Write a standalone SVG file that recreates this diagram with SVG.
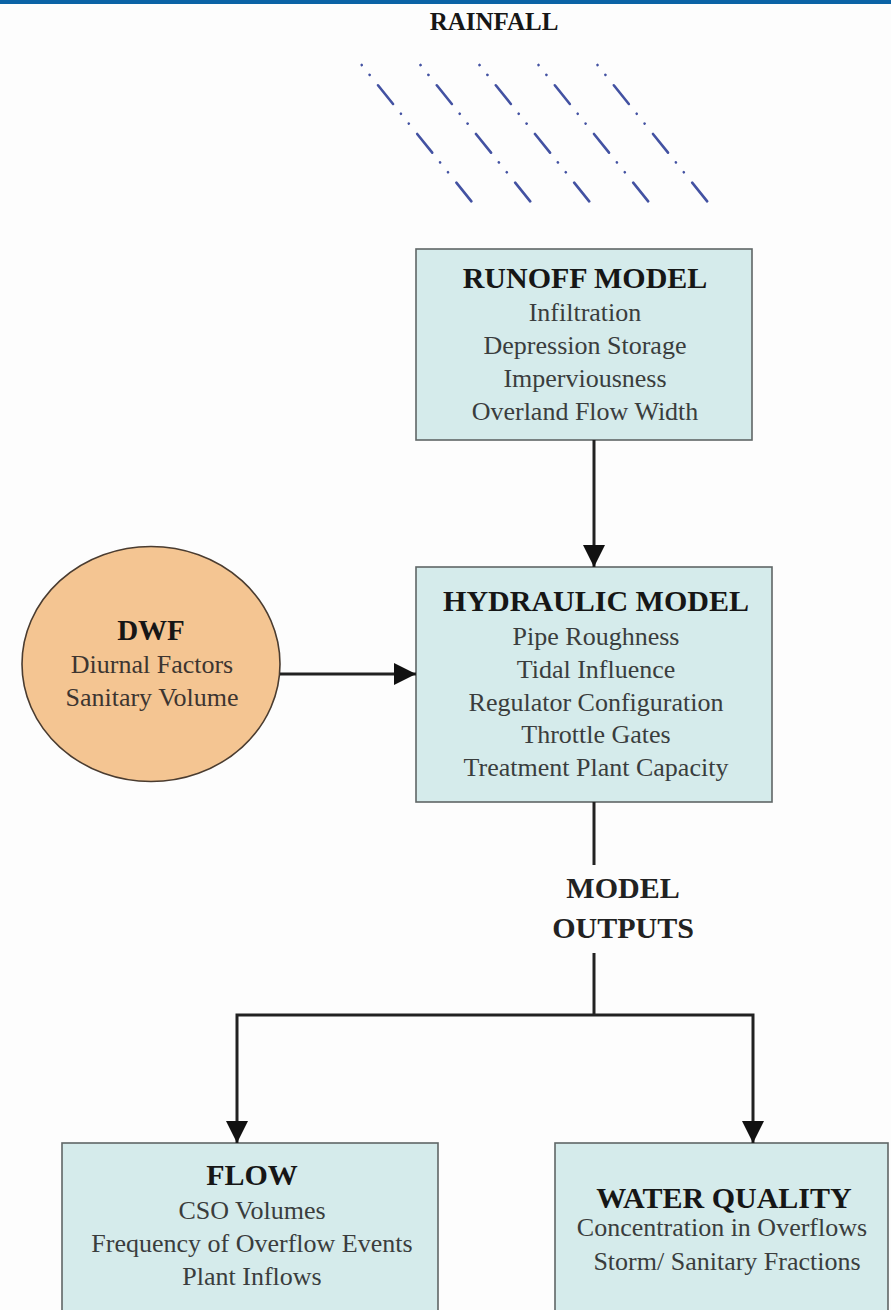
<svg xmlns="http://www.w3.org/2000/svg" width="891" height="1310" viewBox="0 0 891 1310">
  <style>
    .box { fill: #d5ebeb; stroke: #5f6666; stroke-width: 1.6; }
    .title { font-family: "Liberation Serif", "Times New Roman", serif; font-weight: bold; font-size: 30px; fill: #161616; text-anchor: middle; }
    .body { font-family: "Liberation Serif", "Times New Roman", serif; font-size: 26px; fill: #3a3d3d; text-anchor: middle; }
    .conn { fill: none; stroke: #222; stroke-width: 3; }
    .rain { fill: none; stroke: #4352a2; stroke-width: 2.6; stroke-linecap: round; stroke-dasharray: 0.1 12.5 0.1 13.3 24 12.5; }
  </style>
  <defs>
    <marker id="arrow" markerUnits="userSpaceOnUse" markerWidth="22" markerHeight="22" viewBox="0 0 22 22" refX="22" refY="11" orient="auto">
      <path d="M0,0 L22,11 L0,22 Z" fill="#111"/>
    </marker>
  </defs>
  <rect x="0" y="0" width="891" height="1310" fill="#fdfdfd"/>
  <rect x="0" y="0" width="891" height="4" fill="#0b63a6"/>

  <g id="rainfall">
    <text class="title" x="494" y="30" font-size="25" style="font-size:25px">RAINFALL</text>
    <line class="rain" x1="361.7" y1="65" x2="471.7" y2="201.7"/>
    <line class="rain" x1="420.5" y1="65" x2="530.5" y2="201.7"/>
    <line class="rain" x1="479.5" y1="65" x2="589.5" y2="201.7"/>
    <line class="rain" x1="538.5" y1="65" x2="648.5" y2="201.7"/>
    <line class="rain" x1="597.5" y1="65" x2="707.5" y2="201.7"/>
  </g>

  <g id="runoff-model">
    <rect class="box" x="416" y="249" width="336" height="191"/>
    <text class="title" x="585" y="288">RUNOFF MODEL</text>
    <text class="body" x="585" y="321">Infiltration</text>
    <text class="body" x="585" y="354">Depression Storage</text>
    <text class="body" x="585" y="387">Imperviousness</text>
    <text class="body" x="585" y="420">Overland Flow Width</text>
  </g>

  <g id="hydraulic-model">
    <rect class="box" x="416" y="567" width="356" height="235"/>
    <text class="title" x="596" y="611">HYDRAULIC MODEL</text>
    <text class="body" x="596" y="645">Pipe Roughness</text>
    <text class="body" x="596" y="677.5">Tidal Influence</text>
    <text class="body" x="596" y="710.5">Regulator Configuration</text>
    <text class="body" x="596" y="743">Throttle Gates</text>
    <text class="body" x="596" y="776">Treatment Plant Capacity</text>
  </g>

  <g id="dwf">
    <ellipse cx="151" cy="664" rx="129" ry="117.5" fill="#f4c592" stroke="#4a3c30" stroke-width="1.6"/>
    <text class="title" x="151" y="640" style="font-size:29px">DWF</text>
    <text class="body" x="152" y="673" style="fill:#3d3530">Diurnal Factors</text>
    <text class="body" x="152" y="706" style="fill:#3d3530">Sanitary Volume</text>
  </g>

  <g id="flow">
    <rect class="box" x="62" y="1143" width="376" height="180"/>
    <text class="title" x="252" y="1185">FLOW</text>
    <text class="body" x="252" y="1219">CSO Volumes</text>
    <text class="body" x="252" y="1252">Frequency of Overflow Events</text>
    <text class="body" x="252" y="1285">Plant Inflows</text>
  </g>

  <g id="water-quality">
    <rect class="box" x="555" y="1143" width="333" height="180"/>
    <text class="title" x="724" y="1208">WATER QUALITY</text>
    <text class="body" x="722" y="1236">Concentration in Overflows</text>
    <text class="body" x="727" y="1270">Storm/ Sanitary Fractions</text>
  </g>

  <g id="connectors">
    <line class="conn" x1="594" y1="440" x2="594" y2="567" marker-end="url(#arrow)"/>
    <line class="conn" x1="280" y1="674" x2="416" y2="674" marker-end="url(#arrow)"/>
    <line class="conn" x1="594" y1="802" x2="594" y2="865"/>
    <text class="title" x="623" y="898" style="fill:#222">MODEL</text>
    <text class="title" x="623" y="938" style="fill:#222">OUTPUTS</text>
    <line class="conn" x1="594" y1="953" x2="594" y2="1015"/>
    <path class="conn" d="M594,1015 H237 V1143" marker-end="url(#arrow)"/>
    <path class="conn" d="M594,1015 H753 V1143" marker-end="url(#arrow)"/>
  </g>
</svg>
